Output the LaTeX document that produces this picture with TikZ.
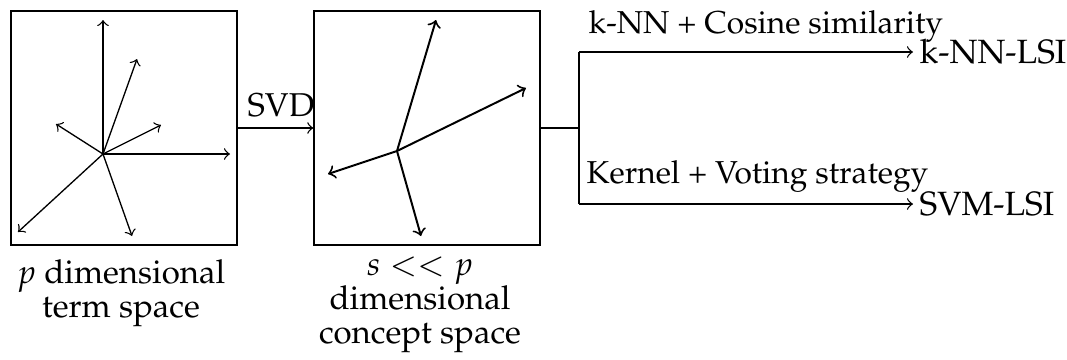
\documentclass[tikz,border=0pt]{standalone}
\usepackage[T1]{fontenc}
\usepackage{mathpazo}
\tikzset{
  box/.style={draw, thin, minimum width=68.5pt, minimum height=70.9pt, inner sep=0pt},
  vec/.style={->, thin},
  cvec/.style={->, line width=0.6pt},
  flow/.style={->, thin},
  lbl/.style={inner sep=0pt, font=\fontsize{10}{11}\selectfont},
  edgelbl/.style={inner sep=0pt, font=\fontsize{9.6}{11}\selectfont},
  endlbl/.style={inner sep=1.8pt, anchor=west, font=\fontsize{10.2}{12}\selectfont},
  captxt/.style={inner sep=0pt, align=center, font=\fontsize{10}{10.3}\selectfont},
}
\begin{document}
\begin{tikzpicture}[x=0.303pt,y=-0.303pt]
\useasboundingbox (0,0) rectangle (1067,360);
% boxes
\node[box] (b1) at (124,128) {};
\node[box] (b2) at (427,128) {};
% term space vectors
\coordinate (o1) at (103,154);
\coordinate (t1) at (103,20);
\coordinate (t2) at (137,59);
\coordinate (t3) at (161,125);
\coordinate (t4) at (230,154);
\coordinate (t5) at (56,124);
\coordinate (t6) at (18,232);
\coordinate (t7) at (132,236);
\foreach \t in {t1,t2,t3,t4,t5,t6,t7} \draw[vec] (o1) -- (\t);
% concept space vectors
\coordinate (o2) at (397,151);
\coordinate (c1) at (436,20);
\coordinate (c2) at (526,88);
\coordinate (c3) at (328,174);
\coordinate (c4) at (421,236);
\foreach \c in {c1,c2,c3,c4} \draw[cvec] (o2) -- (\c);
% SVD arrow
\draw[flow] (b1.east) -- (b2.west);
\node[lbl, anchor=base] (svd) at (281,117) {SVD};
% branch
\coordinate (j) at (579,128);
\coordinate (jt) at (579,52);
\coordinate (jb) at (579,204);
\node[endlbl] (knn) at (913,52) {k-NN-LSI};
\node[endlbl] (svm) at (913,204) {SVM-LSI};
\draw (b2.east) -- (j);
\draw (jt) -- (jb);
\draw[flow] (jt) -- (knn.west);
\draw[flow] (jb) -- (svm.west);
\node[edgelbl, anchor=base west] (cos) at (588,33) {k-NN + Cosine similarity};
\node[edgelbl, anchor=base west] (ker) at (586,184) {Kernel + Voting strategy};
% captions
\node[captxt, anchor=north] (cap1) at (121,259) {$p$ dimensional\\term space};
\node[captxt, anchor=north] (cap2) at (420,256) {$s << p$\\dimensional\\concept space};
\end{tikzpicture}
\end{document}
